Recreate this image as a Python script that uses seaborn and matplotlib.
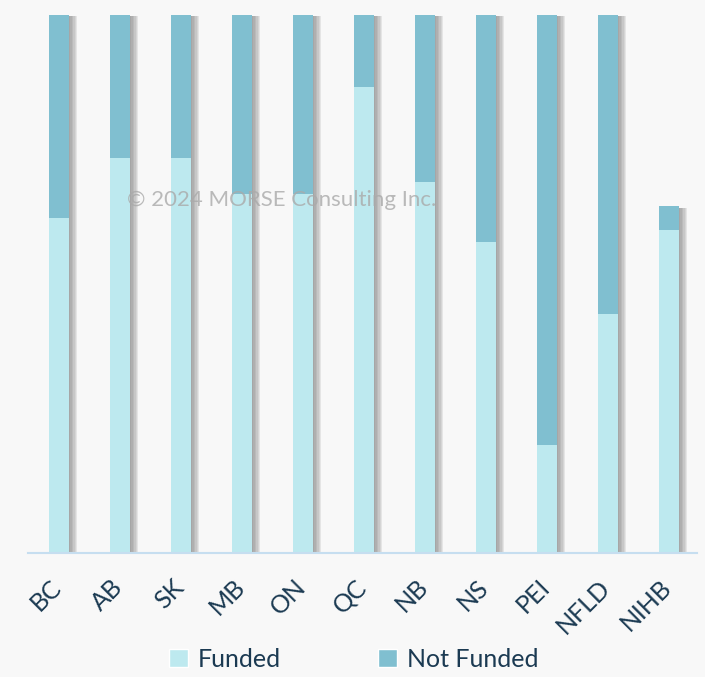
import matplotlib
matplotlib.use('Agg')
import matplotlib.pyplot as plt
import matplotlib.patheffects as pe
import matplotlib.transforms as mtransforms
from matplotlib.patches import Patch
import seaborn as sns

# number of drugs funded / not funded per jurisdiction (out of 45)
provinces = ['BC', 'AB', 'SK', 'MB', 'ON', 'QC', 'NB', 'NS', 'PEI', 'NFLD', 'NIHB']
funded = [28, 33, 33, 30, 30, 39, 31, 26, 9, 20, 27]
not_funded = [17, 12, 12, 15, 15, 6, 14, 19, 36, 25, 2]
totals = [f + n for f, n in zip(funded, not_funded)]

c_funded = '#bde9ef'
c_not = '#80bfd0'
txt = '#1b3a52'

sns.set_style('white')
plt.rcParams['font.family'] = ['Lato', 'DejaVu Sans']

fig = plt.figure(figsize=(7.05, 6.77), dpi=100, facecolor='#f8f8f8')
ax = fig.add_axes([28 / 705, 1 - 553 / 677, 669 / 705, 538 / 677])
ax.set_facecolor('none')

sns.barplot(x=provinces, y=totals, color=c_not, width=0.33, saturation=1, linewidth=0, ax=ax)
# soft shadow on the right of each bar
shadow = [pe.SimplePatchShadow(offset=(d, -1), shadow_rgbFace='#6a6a6a', alpha=0.13) for d in (1, 2, 3, 4, 5, 6)]
for p in ax.patches:
    p.set_path_effects(shadow + [pe.Normal()])
sns.barplot(x=provinces, y=funded, color=c_funded, width=0.33, saturation=1, linewidth=0, ax=ax)

ax.set_xlim(-0.508, 10.46)
ax.set_ylim(0, 45)
for s in ['top', 'right', 'left']:
    ax.spines[s].set_visible(False)
ax.spines['bottom'].set_color('#c6def0')
ax.spines['bottom'].set_linewidth(1.5)
ax.set_yticks([])
ax.tick_params(axis='x', length=0, pad=16)
ax.set_xticks(range(len(provinces)))
ax.set_xticklabels(provinces, rotation=45, ha='right', rotation_mode='default', fontsize=18, color=txt)
shift = mtransforms.ScaledTranslation(7 / 100, 0, fig.dpi_scale_trans)
for lab in ax.get_xticklabels():
    lab.set_transform(lab.get_transform() + shift)
ax.set_xlabel('')
ax.set_ylabel('')

fig.text(0.40, 1 - 200 / 677, '\u00a9 2024 MORSE Consulting Inc.', fontsize=16, color='#aaaaaa',
         alpha=0.8, ha='center', va='center', zorder=10)

handles = [Patch(facecolor=c_funded, label='Funded'), Patch(facecolor=c_not, label='Not Funded')]
fig.legend(handles=handles, loc='lower center', bbox_to_anchor=(0.502, -0.024), ncol=2, frameon=False,
           fontsize=18, labelcolor=txt, handlelength=0.75, handleheight=0.75, handletextpad=0.4,
           columnspacing=3.9)

fig.savefig('out.png', dpi=100, facecolor=fig.get_facecolor())
